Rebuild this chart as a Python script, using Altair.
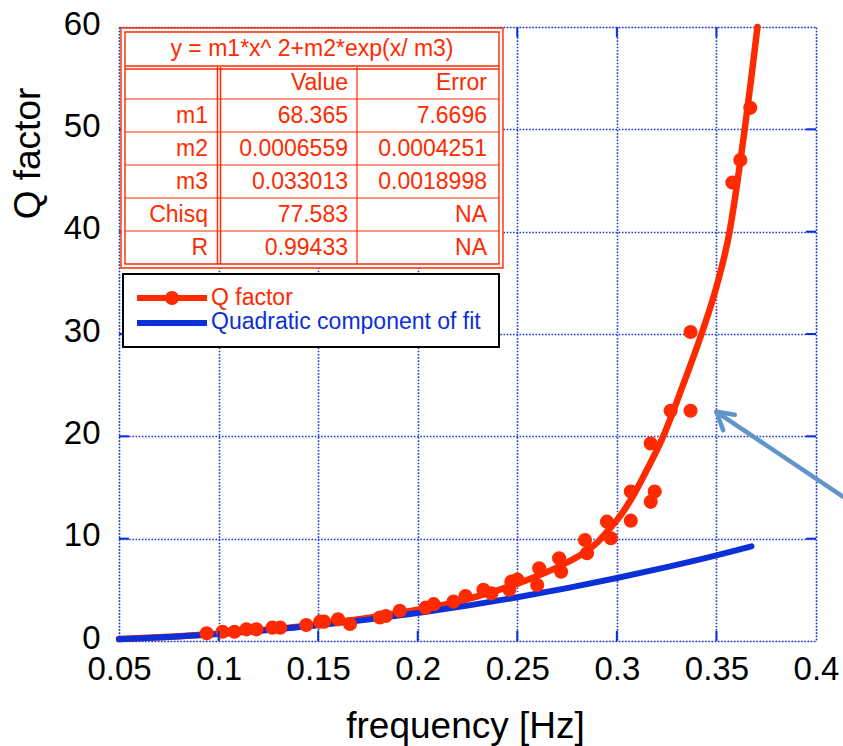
import altair as alt
import pandas as pd

# ---------------- data ----------------
q_freq = [0.094, 0.102, 0.108, 0.114, 0.119, 0.127, 0.131, 0.144, 0.151, 0.153,
          0.160, 0.166, 0.181, 0.184, 0.191, 0.204, 0.208, 0.218, 0.224, 0.233,
          0.237, 0.246, 0.247, 0.250, 0.260, 0.261, 0.271, 0.272, 0.284, 0.285,
          0.295, 0.297, 0.307, 0.307, 0.317, 0.319, 0.317, 0.327, 0.337, 0.337,
          0.358, 0.362, 0.367]
q_val = [0.75, 0.9, 0.9, 1.14, 1.14, 1.3, 1.3, 1.56, 1.89, 1.89,
         2.12, 1.66, 2.3, 2.44, 2.96, 3.26, 3.6, 3.85, 4.4, 5.0,
         4.66, 5.0, 5.8, 6.0, 5.47, 7.1, 8.08, 6.77, 9.87, 8.57,
         11.66, 10.04, 11.76, 14.6, 13.6, 14.6, 19.3, 22.5, 22.5, 30.2,
         44.8, 47.0, 52.1]

fit_freq = [0.05, 0.07, 0.09, 0.10, 0.12, 0.14, 0.16, 0.18, 0.20, 0.22, 0.24, 0.25,
            0.26, 0.27, 0.28, 0.29, 0.296, 0.30, 0.307, 0.315, 0.3233, 0.333,
            0.3425, 0.35, 0.3566, 0.3605, 0.3642, 0.3675, 0.3706]
fit_val = [0.2, 0.36, 0.58, 0.72, 1.02, 1.4, 1.85, 2.4, 3.05, 3.85, 4.95, 5.6,
           6.35, 7.2, 8.2, 9.6, 10.9, 11.8, 13.8, 16.7, 20.0, 24.9,
           30.0, 34.6, 40.0, 44.8, 50.0, 55.0, 60.0]

quad_freq = [0.05, 0.075, 0.10, 0.125, 0.15, 0.175, 0.20, 0.225, 0.25, 0.275,
             0.30, 0.325, 0.35, 0.3676]
quad_val = [0.17, 0.38, 0.68, 1.07, 1.54, 2.09, 2.73, 3.46, 4.27, 5.17,
            6.15, 7.22, 8.37, 9.25]

x_tick_values = [0.05, 0.1, 0.15, 0.2, 0.25, 0.3, 0.35, 0.4]
y_tick_values = [0, 10, 20, 30, 40, 50, 60]
x_inner_ticks = [0.1, 0.15, 0.2, 0.25, 0.3, 0.35]
y_inner_ticks = [10, 20, 30, 40, 50]

fit_title = "y = m1*x^ 2+m2*exp(x/ m3)"
table_cols = ["", "Value", "Error"]
param_names = ["m1", "m2", "m3", "Chisq", "R"]
param_values = ["68.365", "0.0006559", "0.033013", "77.583", "0.99433"]
param_errors = ["7.6696", "0.0004251", "0.0018998", "NA", "NA"]
legend_labels = ["Q factor", "Quadratic component of fit"]

# arrow annotation (data coordinates)
arrow_tip_f, arrow_tip_q = 0.3500, 22.4
arrow_end_f = [0.4135, 0.3592, 0.3534]
arrow_end_q = [14.1, 22.1, 20.6]

# ---------------- style / layout ----------------
RED = "#ff2a00"
BLUE = "#0b30d8"
GRID = "#1a3ad8"
ARROW = "#6194c9"
FONT = "Liberation Sans"
W, H = 697, 614

x_scale = alt.Scale(domain=[0.05, 0.4], nice=False, zero=False)
y_scale = alt.Scale(domain=[0, 60], nice=False, zero=False)

x_axis = alt.Axis(values=x_tick_values, format=".2~f", title="frequency [Hz]",
                  titleFontSize=37, titleFont=FONT, titleFontWeight="normal",
                  titleColor="black", titleX=346, titleY=96, titleAlign="center",
                  titleBaseline="alphabetic", titleAnchor="start",
                  labelFontSize=33, labelFont=FONT, labelColor="black",
                  labelPadding=12, labelFlush=False, labelOverlap=False,
                  ticks=False, domain=False, grid=True, gridColor=GRID,
                  gridDash=[1.6, 1.6], gridWidth=1.6)
y_axis = alt.Axis(values=y_tick_values, title="Q factor",
                  titleFontSize=37, titleFont=FONT, titleFontWeight="normal",
                  titleColor="black", titleX=-91, titleY=126, titleAlign="center",
                  titleBaseline="middle", titleAngle=270, titleAnchor="start",
                  labelFontSize=33, labelFont=FONT, labelColor="black",
                  labelPadding=19, labelOffset=-3, labelFlush=False,
                  labelOverlap=False, ticks=False, domain=False, grid=True,
                  gridColor=GRID, gridDash=[1.6, 1.6], gridWidth=1.6)

X = alt.X("f:Q", scale=x_scale, axis=x_axis)
Y = alt.Y("q:Q", scale=y_scale, axis=y_axis)

fit_df = pd.DataFrame({"f": fit_freq, "q": fit_val})
quad_df = pd.DataFrame({"f": quad_freq, "q": quad_val})
pts_df = pd.DataFrame({"f": q_freq, "q": q_val})

fit_line = alt.Chart(fit_df).mark_line(color=RED, strokeWidth=6.5, strokeJoin="round",
                                       strokeCap="round", interpolate="monotone").encode(x=X, y=Y)
quad_line = alt.Chart(quad_df).mark_line(color=BLUE, strokeWidth=6, strokeCap="round",
                                         strokeJoin="round", interpolate="monotone").encode(x=X, y=Y)
points = alt.Chart(pts_df).mark_circle(color=RED, size=200, opacity=1).encode(x=X, y=Y)

# inward ticks on all four sides
xt = pd.DataFrame({"f": x_inner_ticks})
yt = pd.DataFrame({"q": y_inner_ticks})
tick_bottom = alt.Chart(xt).mark_rule(color=BLUE, strokeWidth=2).encode(
    x=X, y=alt.value(H - 10), y2=alt.value(H))
tick_top = alt.Chart(xt).mark_rule(color=BLUE, strokeWidth=2).encode(
    x=X, y=alt.value(0), y2=alt.value(10))
tick_left = alt.Chart(yt).mark_rule(color=BLUE, strokeWidth=2).encode(
    y=Y, x=alt.value(0), x2=alt.value(10))
tick_right = alt.Chart(yt).mark_rule(color=BLUE, strokeWidth=2).encode(
    y=Y, x=alt.value(W - 10), x2=alt.value(W))

# arrow annotation
arrow_df = pd.DataFrame({"f": [arrow_tip_f] * 3, "q": [arrow_tip_q] * 3,
                         "f2": arrow_end_f, "q2": arrow_end_q})
arrow = alt.Chart(arrow_df).mark_rule(color=ARROW, strokeWidth=4.5, strokeCap="round").encode(
    x=X, y=Y, x2="f2:Q", y2="q2:Q")

# ---------------- fit table (pixel layout inside plot) ----------------
one = pd.DataFrame({"k": [0]})
PX = lambda c: alt.X(c, type="quantitative", scale=None)
PY = lambda c: alt.Y(c, type="quantitative", scale=None)

table_bg = alt.Chart(one).mark_rect(fill="white", stroke=RED, strokeWidth=1.4).encode(
    x=alt.value(2), x2=alt.value(384), y=alt.value(1), y2=alt.value(241))
table_in = alt.Chart(one).mark_rect(fill="white", stroke=RED, strokeWidth=1.4).encode(
    x=alt.value(6), x2=alt.value(380), y=alt.value(5), y2=alt.value(237))

row_lines_y = [72, 105, 138, 171, 204]
seg = {"x1": [6, 6] + [6] * len(row_lines_y) + [98.5, 101.5, 238],
       "x2": [380, 380] + [380] * len(row_lines_y) + [98.5, 101.5, 238],
       "y1": [39, 42] + row_lines_y + [40, 40, 40],
       "y2": [39, 42] + row_lines_y + [237, 237, 237],
       "w": [1.5, 1.5] + [1.2] * len(row_lines_y) + [1.5, 1.5, 1.2]}
seg_df = pd.DataFrame(seg)
table_lines = alt.Chart(seg_df).mark_rule(color=RED).encode(
    x=PX("x1"), x2="x2:Q", y=PY("y1"), y2="y2:Q",
    strokeWidth=alt.StrokeWidth("w:Q", scale=None))

header = alt.Chart(pd.DataFrame({"t": [fit_title]})).mark_text(
    color=RED, font=FONT, fontSize=23, align="center", baseline="middle").encode(
    text="t:N", x=alt.value(193), y=alt.value(22))

col_right = [89, 229, 368]
row_mid = [56, 88.5, 121.5, 154.5, 187.5, 220.5]
cells = {"t": [], "px": [], "py": []}
for j, t in enumerate(table_cols):
    cells["t"].append(t); cells["px"].append(col_right[j]); cells["py"].append(row_mid[0])
for i in range(len(param_names)):
    for j, t in enumerate([param_names[i], param_values[i], param_errors[i]]):
        cells["t"].append(t); cells["px"].append(col_right[j]); cells["py"].append(row_mid[i + 1])
cells_df = pd.DataFrame(cells)
table_text = alt.Chart(cells_df).mark_text(
    color=RED, font=FONT, fontSize=23, align="right", baseline="middle").encode(
    text="t:N", x=PX("px"), y=PY("py"))

# ---------------- legend box ----------------
legend_bg = alt.Chart(one).mark_rect(fill="white", stroke="black", strokeWidth=2).encode(
    x=alt.value(4), x2=alt.value(380), y=alt.value(247), y2=alt.value(320))
leg_red = alt.Chart(one).mark_rule(color=RED, strokeWidth=6).encode(
    x=alt.value(18), x2=alt.value(88), y=alt.value(271))
leg_dot = alt.Chart(one).mark_circle(color=RED, size=200, opacity=1).encode(
    x=alt.value(53), y=alt.value(271))
leg_blue = alt.Chart(one).mark_rule(color=BLUE, strokeWidth=6).encode(
    x=alt.value(18), x2=alt.value(88), y=alt.value(296))
leg_t1 = alt.Chart(pd.DataFrame({"t": [legend_labels[0]]})).mark_text(
    color=RED, font=FONT, fontSize=23, align="left", baseline="middle").encode(
    text="t:N", x=alt.value(92), y=alt.value(271))
leg_t2 = alt.Chart(pd.DataFrame({"t": [legend_labels[1]]})).mark_text(
    color=BLUE, font=FONT, fontSize=23, align="left", baseline="middle").encode(
    text="t:N", x=alt.value(92), y=alt.value(295))

chart = alt.layer(
    fit_line, quad_line, points,
    tick_bottom, tick_top, tick_left, tick_right,
    arrow,
    table_bg, table_in, table_lines, header, table_text,
    legend_bg, leg_red, leg_dot, leg_blue, leg_t1, leg_t2,
).properties(
    width=W, height=H,
    padding={"left": 119, "top": 27, "right": 27, "bottom": 105},
    autosize=alt.AutoSizeParams(type="none"),
    background="white",
).configure_view(stroke=BLUE, strokeWidth=2.5).configure(font=FONT)

chart.save("out.html", embed_options={"renderer": "svg", "actions": False})
